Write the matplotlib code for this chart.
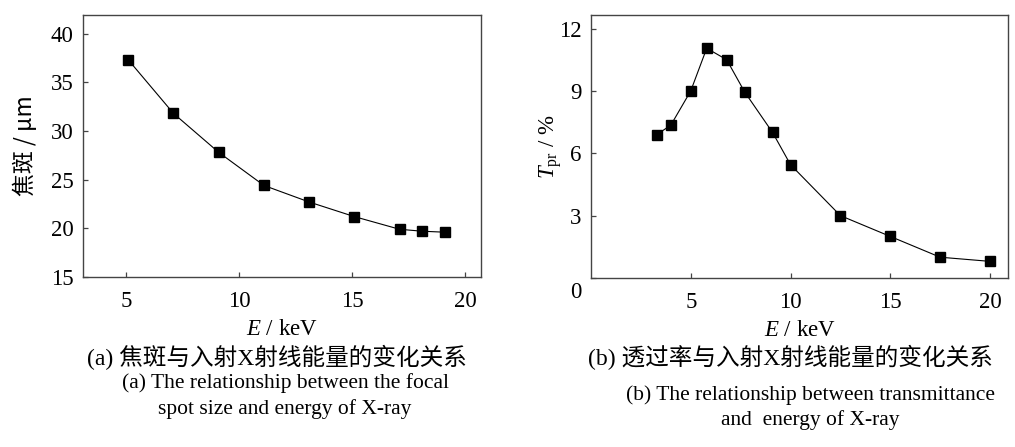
import matplotlib
matplotlib.use("Agg")
import matplotlib.pyplot as plt
import matplotlib.transforms as mtransforms

plt.rcParams['font.family'] = ['Liberation Serif', 'Noto Sans CJK SC', 'DejaVu Sans']
plt.rcParams['mathtext.fontset'] = 'custom'
plt.rcParams['mathtext.rm'] = 'Liberation Serif'
plt.rcParams['mathtext.it'] = 'Liberation Serif:italic'

### DATA
# (a) focal spot vs energy
energy_a = [5.1, 7.1, 9.1, 11.1, 13.1, 15.1, 17.1, 18.1, 19.1]
spot_um = [37.3, 31.8, 27.8, 24.4, 22.7, 21.2, 19.9, 19.7, 19.6]
# (b) transmittance vs energy
energy_b = [3.3, 4.0, 5.0, 5.8, 6.8, 7.7, 9.1, 10.0, 12.5, 15.0, 17.5, 20.0]
trans_pct = [6.9, 7.35, 9.0, 11.05, 10.5, 8.95, 7.0, 5.45, 3.0, 2.0, 1.0, 0.8]

xticks_a = [5, 10, 15, 20]
yticks_a = [15, 20, 25, 30, 35, 40]
xticks_b = [5, 10, 15, 20]
yticks_b = [0, 3, 6, 9, 12]

cap_a_cn = "(a) 焦斑与入射X射线能量的变化关系"
cap_a_en = "(a) The relationship between the focal\nspot size and energy of X-ray"
cap_b_cn = "(b) 透过率与入射X射线能量的变化关系"
cap_b_en = "(b) The relationship between transmittance\nand  energy of X-ray"

W, H = 1015, 447
fig = plt.figure(figsize=(W / 100, H / 100), dpi=100)

ax1 = fig.add_axes([83 / W, (H - 277) / H, (481 - 83) / W, (277 - 15) / H])
ax2 = fig.add_axes([591 / W, (H - 278) / H, (1008 - 591) / W, (278 - 15) / H])

fs = 16.5
spine_col = '#444444'
for ax in (ax1, ax2):
    for s in ax.spines.values():
        s.set_color(spine_col)
        s.set_linewidth(1.0)
    ax.tick_params(direction='in', length=3.5, width=0.9, color=spine_col,
                   labelsize=fs, pad=7)
    ax.tick_params(axis='x', pad=10)

ax1.plot(energy_a, spot_um, color='black', lw=0.8, marker='s', ms=7.8,
         mfc='black', mec='black')
ax1.set_xlim(3.1, 20.7)
ax1.set_ylim(15, 41.9)
ax1.set_xticks(xticks_a)
ax1.set_yticks(yticks_a)
ax1.set_xlabel('$E$ / keV', fontsize=fs, labelpad=5)
ax1.set_ylabel('焦斑 / μm', fontsize=fs, labelpad=10,
               family=['Noto Sans CJK SC', 'Liberation Serif'])

ax2.plot(energy_b, trans_pct, color='black', lw=0.8, marker='s', ms=7.8,
         mfc='black', mec='black')
ax2.set_xlim(0, 20.9)
ax2.set_ylim(0, 12.65)
ax2.set_xticks(xticks_b)
ax2.set_yticks(yticks_b)
ax2.set_xlabel('$E$ / keV', fontsize=fs, labelpad=5)
ax2.set_ylabel('$T_{\\mathrm{pr}}$ / %', fontsize=fs, labelpad=-4)

# the zero label on (b) sits a little lower in the original
zero_lab = ax2.yaxis.get_major_ticks()[0].label1
zero_lab.set_transform(zero_lab.get_transform() +
                       mtransforms.ScaledTranslation(0, -12 / 100, fig.dpi_scale_trans))

### CAPTIONS
fig.text(277 / W, 1 - 357 / H, cap_a_cn, ha='center', va='center', fontsize=17)
fig.text(285 / W, 1 - 396 / H, cap_a_en, ha='center', va='center', fontsize=15.5,
         linespacing=1.35)
fig.text(790 / W, 1 - 357 / H, cap_b_cn, ha='center', va='center', fontsize=17)
fig.text(810 / W, 1 - 408 / H, cap_b_en, ha='center', va='center', fontsize=15.5,
         linespacing=1.35)

fig.savefig('out.png', dpi=100)
